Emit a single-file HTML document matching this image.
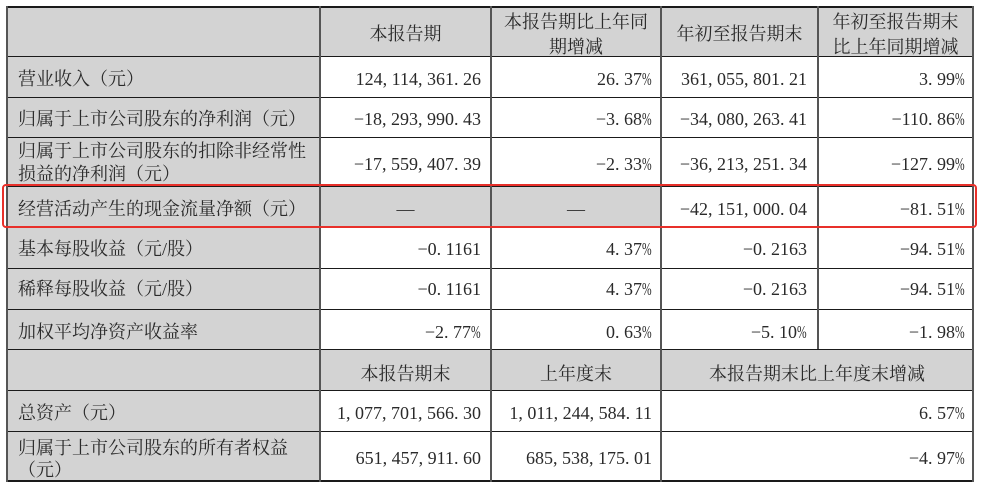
<!DOCTYPE html>
<html><head><meta charset="utf-8">
<style>
html,body{margin:0;padding:0;background:#fff;}
body{width:981px;height:487px;position:relative;overflow:hidden;font-family:"Liberation Serif","Noto Serif CJK SC",serif;font-size:18px;color:#2a2a2a;}
.g{position:absolute;background:#d3d3d3;}
.h{position:absolute;height:1px;background:#1a1a1a;}
.v{position:absolute;width:2px;background:#555;}
.t{position:absolute;white-space:nowrap;line-height:18px;margin-top:1px;}
.l{left:18px;}
.r1{right:500px;text-align:right;}
.r2{right:329px;text-align:right;}
.r3{right:174px;text-align:right;}
.r4{right:16px;text-align:right;}
.c1{left:320px;width:171px;text-align:center;}
.c2{left:491px;width:170px;text-align:center;}
.c3{left:661px;width:157px;text-align:center;}
.c4{left:818px;width:155px;text-align:center;}
.c34{left:661px;width:312px;text-align:center;}
.p{display:inline-block;width:10px;transform:scaleX(.64);transform-origin:left center;}
.red{position:absolute;left:2px;top:184px;width:971px;height:40px;border:2px solid #e8302a;border-radius:4px;}
</style></head><body>
<!-- gray fills -->
<div class="g" style="left:7px;top:7px;width:966px;height:49px"></div>
<div class="g" style="left:7px;top:56px;width:313px;height:424px"></div>
<div class="g" style="left:320px;top:186px;width:341px;height:41px"></div>
<div class="g" style="left:7px;top:349px;width:966px;height:41px"></div>

<!-- horizontal lines -->
<div class="h" style="left:6px;width:968px;top:6px;height:2px"></div>
<div class="h" style="left:6px;width:968px;top:56px"></div>
<div class="h" style="left:6px;width:968px;top:97px"></div>
<div class="h" style="left:6px;width:968px;top:137px"></div>
<div class="h" style="left:6px;width:968px;top:186px"></div>
<div class="h" style="left:6px;width:968px;top:227px"></div>
<div class="h" style="left:6px;width:968px;top:268px"></div>
<div class="h" style="left:6px;width:968px;top:309px"></div>
<div class="h" style="left:6px;width:968px;top:349px"></div>
<div class="h" style="left:6px;width:968px;top:390px"></div>
<div class="h" style="left:6px;width:968px;top:431px"></div>
<div class="h" style="left:6px;width:968px;top:480px;height:2px"></div>

<!-- vertical lines -->
<div class="v" style="left:6px;top:6px;height:476px"></div>
<div class="v" style="left:319px;top:6px;height:476px"></div>
<div class="v" style="left:490px;top:6px;height:476px"></div>
<div class="v" style="left:660px;top:6px;height:476px"></div>
<div class="v" style="left:817px;top:6px;height:343px"></div>
<div class="v" style="left:972px;top:6px;height:476px"></div>

<!-- header row -->
<div class="t c1" style="top:24px">本报告期</div>
<div class="t c2" style="top:9px;line-height:25px">本报告期比上年同<br>期增减</div>
<div class="t c3" style="top:24px">年初至报告期末</div>
<div class="t c4" style="top:9px;line-height:25px">年初至报告期末<br>比上年同期增减</div>

<!-- row1 -->
<div class="t l" style="top:69px">营业收入（元）</div>
<div class="t r1" style="top:69px">124, 114, 361. 26</div>
<div class="t r2" style="top:69px">26. 37<span class="p">%</span></div>
<div class="t r3" style="top:69px">361, 055, 801. 21</div>
<div class="t r4" style="top:69px">3. 99<span class="p">%</span></div>

<!-- row2 -->
<div class="t l" style="top:109px">归属于上市公司股东的净利润（元）</div>
<div class="t r1" style="top:109px">−18, 293, 990. 43</div>
<div class="t r2" style="top:109px">−3. 68<span class="p">%</span></div>
<div class="t r3" style="top:109px">−34, 080, 263. 41</div>
<div class="t r4" style="top:109px">−110. 86<span class="p">%</span></div>

<!-- row3 -->
<div class="t l" style="top:139px;line-height:23.3px">归属于上市公司股东的扣除非经常性<br>损益的净利润（元）</div>
<div class="t r1" style="top:154px">−17, 559, 407. 39</div>
<div class="t r2" style="top:154px">−2. 33<span class="p">%</span></div>
<div class="t r3" style="top:154px">−36, 213, 251. 34</div>
<div class="t r4" style="top:154px">−127. 99<span class="p">%</span></div>

<!-- row4 -->
<div class="t l" style="top:199px">经营活动产生的现金流量净额（元）</div>
<div class="t c1" style="top:199px">—</div>
<div class="t c2" style="top:199px">—</div>
<div class="t r3" style="top:199px">−42, 151, 000. 04</div>
<div class="t r4" style="top:199px">−81. 51<span class="p">%</span></div>

<!-- row5 -->
<div class="t l" style="top:239px">基本每股收益（元/股）</div>
<div class="t r1" style="top:239px">−0. 1161</div>
<div class="t r2" style="top:239px">4. 37<span class="p">%</span></div>
<div class="t r3" style="top:239px">−0. 2163</div>
<div class="t r4" style="top:239px">−94. 51<span class="p">%</span></div>

<!-- row6 -->
<div class="t l" style="top:279px">稀释每股收益（元/股）</div>
<div class="t r1" style="top:279px">−0. 1161</div>
<div class="t r2" style="top:279px">4. 37<span class="p">%</span></div>
<div class="t r3" style="top:279px">−0. 2163</div>
<div class="t r4" style="top:279px">−94. 51<span class="p">%</span></div>

<!-- row7 -->
<div class="t l" style="top:322px">加权平均净资产收益率</div>
<div class="t r1" style="top:322px">−2. 77<span class="p">%</span></div>
<div class="t r2" style="top:322px">0. 63<span class="p">%</span></div>
<div class="t r3" style="top:322px">−5. 10<span class="p">%</span></div>
<div class="t r4" style="top:322px">−1. 98<span class="p">%</span></div>

<!-- row8 header -->
<div class="t c1" style="top:364px">本报告期末</div>
<div class="t c2" style="top:364px">上年度末</div>
<div class="t c34" style="top:364px">本报告期末比上年度末增减</div>

<!-- row9 -->
<div class="t l" style="top:403px">总资产（元）</div>
<div class="t r1" style="top:403px">1, 077, 701, 566. 30</div>
<div class="t r2" style="top:403px">1, 011, 244, 584. 11</div>
<div class="t r4" style="top:403px">6. 57<span class="p">%</span></div>

<!-- row10 -->
<div class="t l" style="top:437px;line-height:21.7px">归属于上市公司股东的所有者权益<br>（元）</div>
<div class="t r1" style="top:448px">651, 457, 911. 60</div>
<div class="t r2" style="top:448px">685, 538, 175. 01</div>
<div class="t r4" style="top:448px">−4. 97<span class="p">%</span></div>

<!-- red highlight -->
<div class="red"></div>
</body></html>
